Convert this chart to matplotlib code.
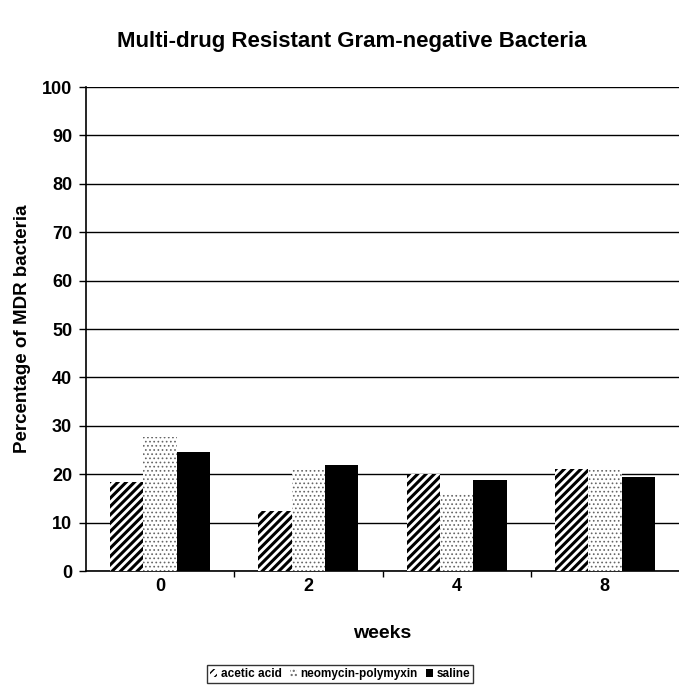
import matplotlib
matplotlib.use("Agg")
import matplotlib.pyplot as plt
import numpy as np

plt.rcParams['font.family'] = ['Liberation Sans', 'DejaVu Sans']

weeks = ["0", "2", "4", "8"]
series_names = ["acetic acid", "neomycin-polymyxin", "saline"]
acetic = [18.3, 12.5, 20.0, 21.0]
neomycin = [27.6, 20.9, 15.9, 20.9]
saline = [24.5, 22.0, 18.9, 19.4]
yticks = [0, 10, 20, 30, 40, 50, 60, 70, 80, 90, 100]

fig = plt.figure(figsize=(6.79, 6.90), dpi=100)
ax = fig.add_axes([86/679, 119/690, 1 - 86/679, 484/690])

x = np.arange(len(weeks))
w = 0.225
styles = [
    dict(facecolor="white", edgecolor="black", hatch="////", lw=2.2),
    dict(facecolor="white", edgecolor="#666666", hatch="....", lw=0.7),
    dict(facecolor="black", edgecolor="black", hatch=None, lw=1.0),
]
data = [acetic, neomycin, saline]
handles = []
for i, (vals, st) in enumerate(zip(data, styles)):
    with plt.rc_context({"hatch.linewidth": st["lw"]}):
        b = ax.bar(x + (i - 1) * w, vals, width=w, facecolor=st["facecolor"],
                   edgecolor=st["edgecolor"], hatch=st["hatch"], linewidth=0,
                   label=series_names[i], zorder=3)
    handles.append(b)

ax.set_xlim(-0.5, len(weeks) - 0.5)
ax.set_ylim(0, 100)
ax.set_yticks(yticks)
ax.set_yticklabels([str(t) for t in yticks], fontsize=13, fontweight="bold")
ax.yaxis.grid(True, color="black", linewidth=1.0, zorder=0)
ax.set_axisbelow(True)

ax.set_xticks(np.arange(0.5, len(weeks) - 0.5, 1.0))
ax.set_xticklabels([])
ax.set_xticks(x, minor=True)
ax.set_xticklabels(weeks, minor=True, fontsize=13, fontweight="bold")
ax.tick_params(axis="x", which="minor", length=0, pad=5)
ax.tick_params(axis="x", which="major", length=4, width=1, direction="out")
ax.tick_params(axis="y", length=5, width=1, direction="out", pad=5)

for s in ["top", "right"]:
    ax.spines[s].set_visible(False)
ax.spines["left"].set_linewidth(1.2)
ax.spines["bottom"].set_linewidth(1.2)

ax.set_ylabel("Percentage of MDR bacteria", fontsize=13.5, fontweight="bold", labelpad=8)
ax.set_xlabel("weeks", fontsize=14, fontweight="bold", labelpad=22)

fig.text(352/679, 1 - 42/690, "Multi-drug Resistant Gram-negative Bacteria",
         ha="center", va="center", fontsize=16, fontweight="bold")

leg = fig.legend(handles=handles, labels=series_names, loc="center",
                 bbox_to_anchor=(340/679, 1 - 674/690), ncol=3,
                 prop={"size": 8.5, "weight": "bold"}, frameon=True, fancybox=False,
                 handlelength=0.6, handleheight=0.7, handletextpad=0.3,
                 columnspacing=0.7, borderpad=0.25, borderaxespad=0)
leg.get_frame().set_edgecolor("black")
leg.get_frame().set_linewidth(1.0)

fig.savefig("out.png", dpi=100)
